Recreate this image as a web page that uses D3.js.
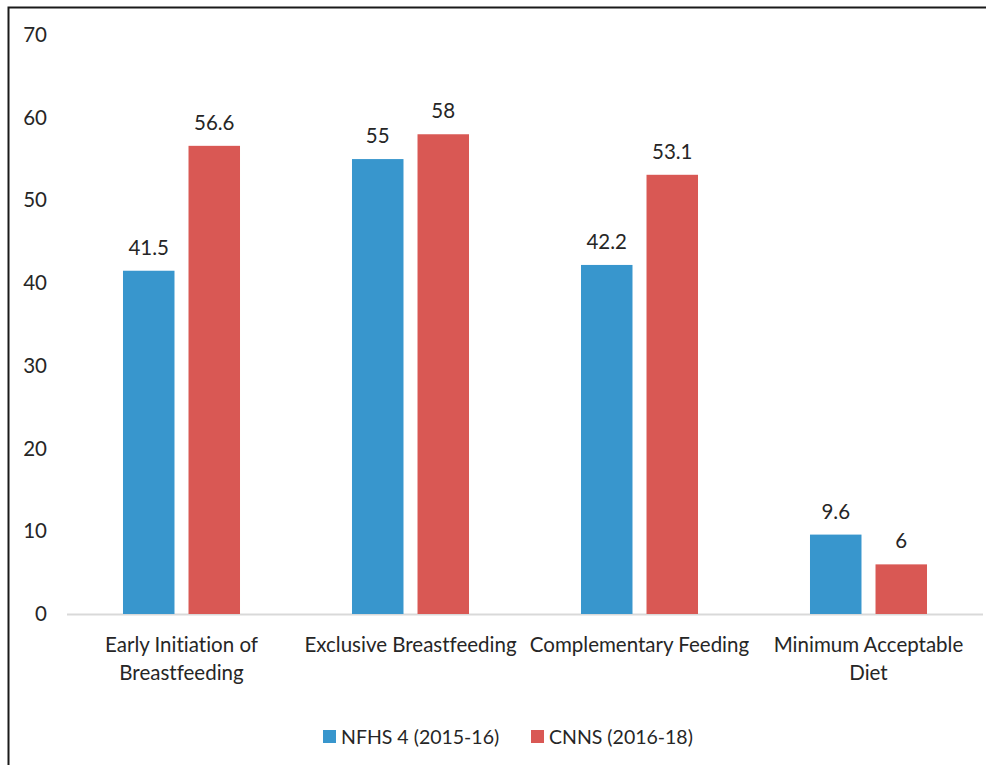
<!DOCTYPE html>
<html>
<head>
<meta charset="utf-8">
<script src="https://cdn.jsdelivr.net/npm/d3@7"></script>
<style>
  html, body { margin: 0; padding: 0; background: #ffffff; }
  svg { display: block; }
  text { font-family: Lato, "Open Sans", sans-serif; fill: #262626; font-variant-ligatures: none; }
</style>
</head>
<body>
<svg id="chart" width="986" height="765"></svg>
<script>
// Infant and young child feeding indicators (%)
const categories = [
  ["Early Initiation of", "Breastfeeding"],
  ["Exclusive Breastfeeding"],
  ["Complementary Feeding"],
  ["Minimum Acceptable", "Diet"]
];
const seriesNames = ["NFHS 4 (2015-16)", "CNNS (2016-18)"];
const nfhs4 = [41.5, 55, 42.2, 9.6];
const cnns = [56.6, 58, 53.1, 6];
const yTicks = [0, 10, 20, 30, 40, 50, 60, 70];
const colors = ["#3896cd", "#d95854"];

const svg = d3.select("#chart");
const W = 986, H = 765;
const margin = { top: 35, right: 3, bottom: 151, left: 67 };
const innerW = W - margin.left - margin.right;
const innerH = H - margin.top - margin.bottom;
const fontSize = "20.5px";

// outer frame (top and left edges visible)
svg.append("path")
  .attr("d", `M8.5,${H} L8.5,7.5 L${W},7.5`)
  .attr("fill", "none")
  .attr("stroke", "#1a1a1a")
  .attr("stroke-width", 2);

const g = svg.append("g").attr("transform", `translate(${margin.left},${margin.top})`);

const x0 = d3.scaleBand().domain(d3.range(categories.length)).range([0, innerW])
  .paddingInner(0.489).paddingOuter(0.2445);
const x1 = d3.scaleBand().domain([0, 1]).range([0, x0.bandwidth()]).paddingInner(0.214);
const y = d3.scaleLinear().domain([0, 70]).range([innerH, 0]);

// y-axis labels
const yAxis = d3.axisLeft(y).tickValues(yTicks).tickSize(0).tickPadding(20).tickFormat(d3.format("d"));
const ya = g.append("g").call(yAxis);
ya.select(".domain").remove();
ya.selectAll("text")
  .style("font-family", "Lato, sans-serif")
  .style("font-size", fontSize)
  .attr("fill", "#262626");

// baseline
g.append("line")
  .attr("x1", 0).attr("x2", innerW)
  .attr("y1", y(0) + 0.5).attr("y2", y(0) + 0.5)
  .attr("stroke", "#d9d9d9").attr("stroke-width", 2);

const rows = categories.map((c, i) => ({ i, vals: [nfhs4[i], cnns[i]] }));

const grp = g.selectAll(".cat").data(rows).join("g")
  .attr("class", "cat")
  .attr("transform", d => `translate(${x0(d.i)},0)`);

grp.selectAll("rect").data(d => d.vals.map((v, s) => ({ v, s }))).join("rect")
  .attr("x", d => x1(d.s))
  .attr("width", x1.bandwidth())
  .attr("y", d => y(d.v))
  .attr("height", d => y(0) - y(d.v))
  .attr("fill", d => colors[d.s]);

grp.selectAll("text.val").data(d => d.vals.map((v, s) => ({ v, s }))).join("text")
  .attr("class", "val")
  .attr("x", d => x1(d.s) + x1.bandwidth() / 2)
  .attr("y", d => y(d.v) - 16)
  .attr("text-anchor", "middle")
  .style("font-size", fontSize)
  .text(d => d.v);

// category labels
const cl = g.selectAll(".clab").data(categories).join("text")
  .attr("class", "clab")
  .attr("text-anchor", "middle")
  .attr("x", (d, i) => x0(i) + x0.bandwidth() / 2)
  .attr("y", innerH + 38)
  .style("font-size", fontSize);
cl.selectAll("tspan").data(d => d).join("tspan")
  .attr("x", function () { return d3.select(this.parentNode).attr("x"); })
  .attr("dy", (d, i) => i === 0 ? 0 : 28)
  .text(d => d);

// legend
const legend = svg.append("g").attr("transform", "translate(323,730)");
const lx = [0, 208];
seriesNames.forEach((name, i) => {
  const lg = legend.append("g").attr("transform", `translate(${lx[i]},0)`);
  lg.append("rect").attr("width", 13).attr("height", 13).attr("fill", colors[i]);
  lg.append("text").attr("x", 18).attr("y", 13.5).style("font-size", "19.5px").text(name);
});
</script>
</body>
</html>
